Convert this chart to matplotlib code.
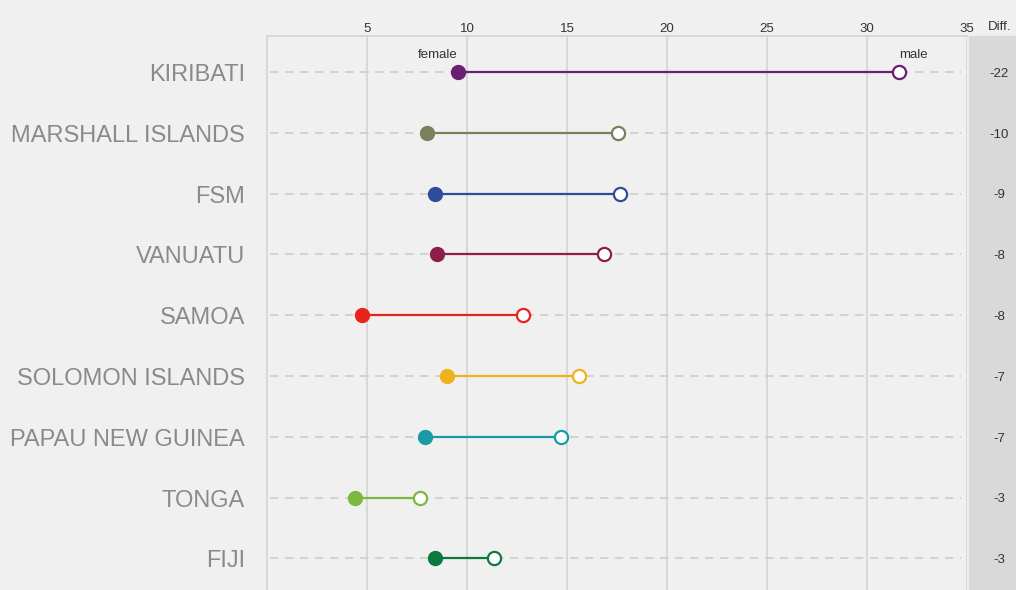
import matplotlib.pyplot as plt

countries = ["KIRIBATI", "MARSHALL ISLANDS", "FSM", "VANUATU", "SAMOA",
             "SOLOMON ISLANDS", "PAPAU NEW GUINEA", "TONGA", "FIJI"]
female = [9.55, 8.0, 8.4, 8.5, 4.75, 9.0, 7.9, 4.4, 8.4]
male = [31.6, 17.55, 17.65, 16.85, 12.8, 15.6, 14.7, 7.65, 11.35]
diff = ["-22", "-10", "-9", "-8", "-8", "-7", "-7", "-3", "-3"]
colors = ["#6b1f73", "#7b7f5c", "#2f4b9b", "#8c1f4a", "#e8231c",
          "#efb21c", "#1a9aa6", "#7cb83e", "#0c7a3e"]
ticks = [5, 10, 15, 20, 25, 30, 35]

bg = "#f0f0f0"
fig = plt.figure(figsize=(10.16, 5.90), dpi=100, facecolor=bg)
ax = fig.add_axes([267 / 1016, 0, 700 / 1016, 554 / 590])
ax.set_facecolor(bg)

# gray band for the Diff. column
band = plt.Rectangle((35.1, 0), 3, 1, transform=ax.get_xaxis_transform(),
                     color="#d9d9d9", zorder=0, clip_on=False)
ax.add_patch(band)

ax.set_xlim(0, 35)
ax.set_ylim(8.52, -0.59)
ax.xaxis.tick_top()
ax.set_xticks(ticks)
ax.set_xticklabels([str(t) for t in ticks], fontsize=9.5, color="#333333",
                   family="Liberation Sans")
ax.tick_params(axis="x", length=0, pad=1)
ax.set_yticks([])
ax.grid(axis="x", color="#d6d6d6", lw=1.3)
ax.set_axisbelow(True)
for s in ["right", "bottom"]:
    ax.spines[s].set_visible(False)
for s in ["top", "left"]:
    ax.spines[s].set_color("#d6d6d6")
    ax.spines[s].set_linewidth(1.3)

for i, c in enumerate(countries):
    ax.plot([0.15, 34.7], [i, i], color="#cccccc", lw=1.2, dashes=(5, 4), zorder=1)
    ax.plot([female[i], male[i]], [i, i], color=colors[i], lw=1.6, zorder=2)
    ax.plot(female[i], i, "o", ms=10, color=colors[i], zorder=3)
    ax.plot(male[i], i, "o", ms=9.5, mfc="white", mec=colors[i], mew=1.6, zorder=3)
    ax.text(-1.1, i + 0.05, c, ha="right", va="center", fontsize=17,
            color="#8a8a8a", family="Liberation Sans")
    ax.text(36.6, i + 0.03, diff[i], ha="center", va="center", fontsize=9.5,
            color="#333333", family="Liberation Sans", zorder=5)

ax.text(female[0], -0.27, "female", ha="right", va="center", fontsize=9.5,
        color="#333333", family="Liberation Sans")
ax.text(male[0], -0.27, "male", ha="left", va="center", fontsize=9.5,
        color="#333333", family="Liberation Sans")
fig.text(1000 / 1016, 1 - 27 / 590, "Diff.", ha="center", va="center", fontsize=9.5,
         color="#333333", family="Liberation Sans")

fig.savefig("out.png", dpi=100, facecolor=bg)
